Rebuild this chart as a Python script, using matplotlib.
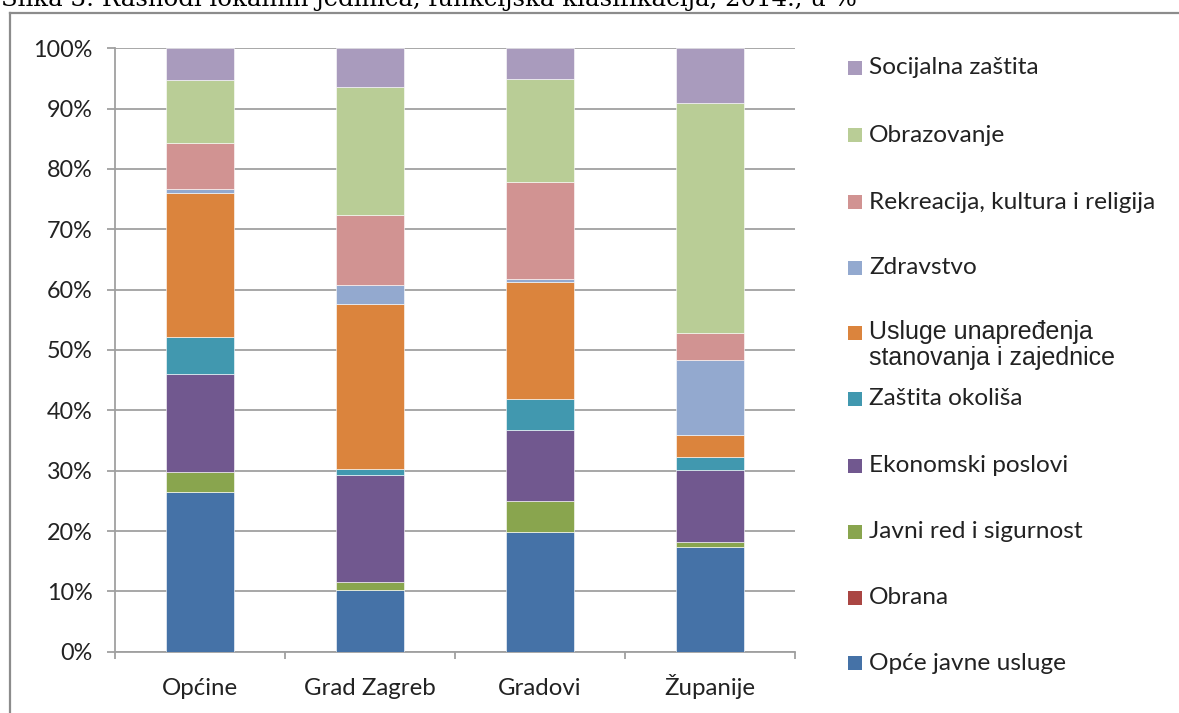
import matplotlib.pyplot as plt
import numpy as np
from matplotlib.patches import Rectangle
from matplotlib.lines import Line2D

# podaci (udio u %, očitano sa slike)
kategorije = ["Općine", "Grad Zagreb", "Gradovi", "Županije"]
serije = ["Opće javne usluge", "Obrana", "Javni red i sigurnost", "Ekonomski poslovi",
          "Zaštita okoliša", "Usluge unapređenja\nstanovanja i zajednice", "Zdravstvo",
          "Rekreacija, kultura i religija", "Obrazovanje", "Socijalna zaštita"]
opce_javne = [26.4, 10.2, 19.9, 17.3]
obrana = [0.0, 0.0, 0.0, 0.0]
javni_red = [3.4, 1.4, 5.0, 0.8]
ekonomski = [16.3, 17.7, 11.8, 12.0]
zastita_okolisa = [6.0, 0.9, 5.1, 2.1]
usluge_stanovanja = [24.0, 27.4, 19.4, 3.7]
zdravstvo = [0.5, 3.1, 0.6, 12.5]
rekreacija = [7.7, 11.6, 16.1, 4.5]
obrazovanje = [10.4, 21.3, 17.0, 38.1]
socijalna = [5.3, 6.4, 5.1, 9.0]
boje = ["#4572A7", "#AA4643", "#89A54E", "#71588F", "#4198AF",
        "#DB843D", "#93A9CF", "#D19392", "#B9CD96", "#A99BBD"]

podaci = [opce_javne, obrana, javni_red, ekonomski, zastita_okolisa,
          usluge_stanovanja, zdravstvo, rekreacija, obrazovanje, socijalna]

W, H = 1179, 713
fig = plt.figure(figsize=(W / 100, H / 100), dpi=100)
ax = fig.add_axes([115 / W, 1 - 651.7 / H, 680 / W, (651.7 - 48.3) / H])

siva = "#a0a0a0"
tekst = "#222222"
font = "Lato"

x = np.arange(len(kategorije))
dno = np.zeros(len(kategorije))
for vrijednosti, boja in zip(podaci, boje):
    v = np.array(vrijednosti)
    ax.bar(x, v, 0.4, bottom=dno, color=boja, edgecolor="white", linewidth=0.4, zorder=3)
    dno += v

ax.set_xlim(-0.5, len(kategorije) - 0.5)
ax.set_ylim(0, 100)
ax.set_yticks(np.arange(0, 101, 10))
ax.set_yticklabels([f"{t}%" for t in range(0, 101, 10)], fontsize=16.8, family=font, color=tekst)
ax.set_xticks(x)
ax.set_xticklabels(kategorije, fontsize=17.3, family=font, color=tekst, va="baseline")
ax.set_xticks(np.arange(-0.5, len(kategorije)), minor=True)
ax.tick_params(axis="x", which="major", length=0, pad=31)
ax.tick_params(axis="x", which="minor", length=5, width=1.3, color=siva)
ax.tick_params(axis="y", length=6, width=1.3, color=siva, pad=10)
ax.grid(axis="y", color=siva, linewidth=1.3, zorder=0)
for s in ["top", "right"]:
    ax.spines[s].set_visible(False)
for s in ["left", "bottom"]:
    ax.spines[s].set_color(siva)
    ax.spines[s].set_linewidth(1.3)

# legenda (obrnuti redoslijed kao u Excelu)
leg_y = [68, 135, 202, 268, 333, 399, 466, 532, 598, 663]
for yy, naziv, boja in zip(leg_y, serije[::-1], boje[::-1]):
    fig.add_artist(Rectangle((848 / W, 1 - (yy + 7) / H), 14 / W, 14 / H,
                             transform=fig.transFigure, facecolor=boja, edgecolor="none"))
    if "\n" in naziv:
        fig.text(869 / W, 1 - (yy - 13) / H, naziv, fontsize=18, family="Liberation Sans",
                 color=tekst, va="top", ha="left", linespacing=1.1)
    else:
        fig.text(869 / W, 1 - yy / H, naziv, fontsize=17.6, family=font,
                 color=tekst, va="center", ha="left")

# okvir i odrezani naslov (u izvoru je naslov prerezan rubom)
fig.add_artist(Line2D([10 / W, 1], [1 - 13 / H, 1 - 13 / H], transform=fig.transFigure,
                      color="#8c8c8c", linewidth=1.6))
fig.add_artist(Line2D([10 / W, 10 / W], [0, 1 - 13 / H], transform=fig.transFigure,
                      color="#8c8c8c", linewidth=1.6))
fig.text(1 / W, 1 - 6 / H, "Slika 3: Rashodi lokalnih jedinica, funkcijska klasifikacija, 2014., u %",
         fontsize=17.6, family="DejaVu Serif", color="black", va="baseline", ha="left")

fig.savefig("out.png", dpi=100)
